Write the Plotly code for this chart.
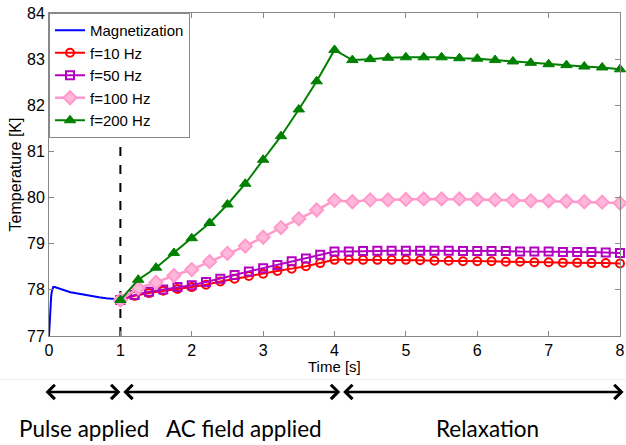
import plotly.graph_objects as go

# ---------------- data ----------------
mag_t = [0.0, 0.01, 0.02, 0.03, 0.04, 0.05, 0.06, 0.08, 0.10, 0.15, 0.20, 0.30, 0.40,
         0.50, 0.60, 0.70, 0.80, 0.90, 1.00]
mag_T = [77.0, 77.35, 77.65, 77.85, 77.97, 78.03, 78.06, 78.06, 78.05, 78.02, 77.99,
         77.95, 77.92, 77.89, 77.86, 77.84, 77.82, 77.81, 77.79]

t_02 = [1.0, 1.2, 1.4, 1.6, 1.8, 2.0, 2.2, 2.4, 2.6, 2.8, 3.0, 3.2, 3.4, 3.6, 3.8, 4.0,
        4.2, 4.4, 4.6, 4.8, 5.0, 5.2, 5.4, 5.6, 5.8, 6.0, 6.2, 6.4, 6.6, 6.8, 7.0,
        7.2, 7.4, 7.6, 7.8, 8.0]
f10_T = [77.78, 77.87, 77.93, 77.98, 78.02, 78.06, 78.11, 78.18, 78.24, 78.30, 78.35,
         78.41, 78.46, 78.51, 78.58, 78.65,
         78.65, 78.65, 78.65, 78.65, 78.65, 78.64, 78.63, 78.63, 78.62, 78.62, 78.62,
         78.61, 78.61, 78.60, 78.60, 78.59, 78.59, 78.58, 78.58, 78.57]
f50_T = [77.78, 77.89, 77.96, 78.01, 78.06, 78.10, 78.17, 78.24, 78.32, 78.40, 78.47,
         78.54, 78.62, 78.68, 78.76, 78.83,
         78.83, 78.84, 78.85, 78.85, 78.85, 78.85, 78.85, 78.85, 78.84, 78.84, 78.84,
         78.84, 78.83, 78.83, 78.83, 78.82, 78.82, 78.82, 78.81, 78.80]

t_025 = [1.0, 1.25, 1.5, 1.75, 2.0, 2.25, 2.5, 2.75, 3.0, 3.25, 3.5, 3.75, 4.0,
         4.25, 4.5, 4.75, 5.0, 5.25, 5.5, 5.75, 6.0, 6.25, 6.5, 6.75, 7.0, 7.25,
         7.5, 7.75, 8.0]
f100_T = [77.78, 78.04, 78.16, 78.31, 78.44, 78.61, 78.79, 78.95, 79.14, 79.35, 79.54,
          79.73, 79.94, 79.91, 79.95, 79.95, 79.96, 79.97, 79.97, 79.97, 79.96, 79.95,
          79.94, 79.93, 79.93, 79.92, 79.91, 79.90, 79.88]
f200_T = [77.78, 78.22, 78.48, 78.80, 79.12, 79.45, 79.85, 80.30, 80.82, 81.33, 81.91,
          82.52, 83.20, 82.98, 83.00, 83.03, 83.04, 83.04, 83.04, 83.02, 83.01, 82.98,
          82.95, 82.92, 82.89, 82.87, 82.84, 82.82, 82.78]

x_ticks = [0, 1, 2, 3, 4, 5, 6, 7, 8]
y_ticks = [77, 78, 79, 80, 81, 82, 83, 84]

pulse_marker = [1, 1]
pulse_range = [77, 84]

phases = ["Pulse applied", "AC field applied", "Relaxation"]
phase_start = [-0.07, 1.02, 4.1]
phase_end = [1.0, 4.08, 8.05]

# ---------------- figure ----------------
fig = go.Figure()

fig.add_trace(go.Scatter(x=pulse_marker, y=pulse_range, mode="lines",
                         line=dict(color="black", width=2, dash="dash"),
                         showlegend=False, hoverinfo="skip"))

fig.add_trace(go.Scatter(x=mag_t, y=mag_T, mode="lines", name="Magnetization",
                         line=dict(color="#0000FF", width=2)))

fig.add_trace(go.Scatter(x=t_02, y=f10_T, mode="lines+markers", name="f=10 Hz",
                         line=dict(color="#FF0000", width=2),
                         marker=dict(symbol="circle-open", size=8, color="#FF0000",
                                     line=dict(width=2, color="#FF0000"))))
fig.add_trace(go.Scatter(x=t_02, y=f50_T, mode="lines+markers", name="f=50 Hz",
                         line=dict(color="#B400C0", width=2),
                         marker=dict(symbol="square-open", size=8, color="#B400C0",
                                     line=dict(width=2, color="#B400C0"))))
fig.add_trace(go.Scatter(x=t_025, y=f100_T, mode="lines+markers", name="f=100 Hz",
                         line=dict(color="#FF99CC", width=2.5),
                         marker=dict(symbol="diamond", size=10, color="#FFB8DA",
                                     line=dict(width=2, color="#FF99CC"))))
fig.add_trace(go.Scatter(x=t_025, y=f200_T, mode="lines+markers", name="f=200 Hz",
                         line=dict(color="#008000", width=2),
                         marker=dict(symbol="triangle-up", size=10, color="#008000",
                                     line=dict(width=1, color="#008000"))))

for tr in fig.data:
    tr.cliponaxis = False

axis_common = dict(showgrid=False, zeroline=False, showline=True, linecolor="#888888",
                   linewidth=1, mirror="ticks", ticks="inside", ticklen=5,
                   tickcolor="#888888", automargin=False,
                   tickfont=dict(family="Liberation Sans, Arial", size=16, color="black"))

fig.update_xaxes(range=[0, 8], tickvals=x_ticks, ticktext=[str(v) for v in x_ticks],
                 **axis_common)
fig.update_yaxes(range=[77, 84], tickvals=y_ticks, ticktext=[str(v) for v in y_ticks],
                 **axis_common)

# axis titles
fig.add_annotation(x=0.5, y=-0.093, xref="paper", yref="paper", text="Time [s]",
                   showarrow=False, xanchor="center", yanchor="middle",
                   font=dict(family="Liberation Sans, Arial", size=15, color="black"))
fig.add_annotation(x=-0.058, y=0.5, xref="paper", yref="paper", text="Temperature [K]",
                   showarrow=False, textangle=-90, xanchor="center", yanchor="middle",
                   font=dict(family="Liberation Sans, Arial", size=16, color="black"))

# phase arrows and labels
label_pos = [0.49, 2.73, 6.15]
for name, a, b, lx in zip(phases, phase_start, phase_end, label_pos):
    fig.add_annotation(x=b, y=-0.173, xref="x", yref="paper",
                       ax=a, ay=0, axref="x", ayref="pixel",
                       showarrow=True, arrowhead=4, startarrowhead=4,
                       arrowside="end+start", arrowsize=1.1, startarrowsize=1.1,
                       arrowwidth=2.5, arrowcolor="black", text="")
    fig.add_annotation(x=lx, y=-0.285, xref="x", yref="paper",
                       text=name, showarrow=False, yanchor="middle",
                       font=dict(family="Lato, Noto Sans", size=22.5, color="black"))

fig.add_shape(type="line", xref="paper", yref="paper", x0=-0.09, x1=1.01,
              y0=-0.135, y1=-0.135, line=dict(color="#EEEEEE", width=1))

fig.update_layout(
    width=626, height=445,
    margin=dict(l=49, r=6, t=13, b=109),
    paper_bgcolor="white", plot_bgcolor="white",
    font=dict(family="Liberation Sans, Arial", color="black"),
    legend=dict(x=0, y=1, xanchor="left", yanchor="top",
                bgcolor="white", bordercolor="#888888", borderwidth=1,
                font=dict(family="Liberation Sans, Arial", size=15),
                itemwidth=30, tracegroupgap=0),
    showlegend=True,
)

# remove the browser's default 8px page margin so the figure sits at the corner
fig.write_html("out.html",
               config={"displayModeBar": False},
               post_script="document.body.style.margin='0px';"
                           "document.body.style.padding='0px';")
